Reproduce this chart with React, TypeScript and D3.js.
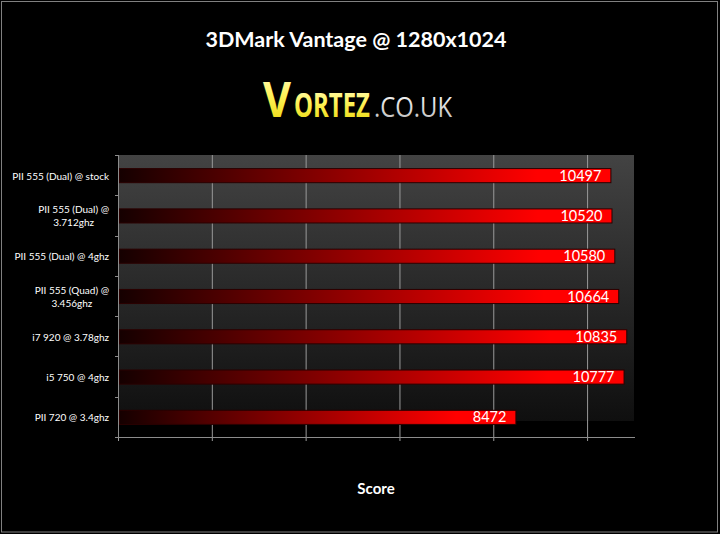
import React, { useEffect, useRef } from "react";
import * as d3 from "d3";

const categories = [
  "PII 555 (Dual) @ stock",
  "PII 555 (Dual) @\n3.712ghz",
  "PII 555 (Dual) @ 4ghz",
  "PII 555 (Quad) @\n3.456ghz",
  "i7 920 @ 3.78ghz",
  "i5 750 @ 4ghz",
  "PII 720 @ 3.4ghz",
];
const scores = [10497, 10520, 10580, 10664, 10835, 10777, 8472];
const xTicks = [0, 2000, 4000, 6000, 8000, 10000];
const xMax = 11000;
const title = "3DMark Vantage @ 1280x1024";
const axisTitle = "Score";
const logoParts = ["V", "ORTEZ", ".CO.UK"];

const W = 720;
const H = 534;
const FONT = "Lato, 'Open Sans', sans-serif";

export default function App() {
  const ref = useRef<SVGSVGElement | null>(null);

  useEffect(() => {
    const svg = d3.select(ref.current);
    svg.selectAll("*").remove();

    const left = 118, right = 634, top = 155, bottom = 437;
    const x = d3.scaleLinear().domain([0, xMax]).range([left, right]);
    const y = d3.scaleBand<string>().domain(categories).range([top, bottom]).paddingInner(0.65).paddingOuter(0.325);

    const defs = svg.append("defs");
    const bg = defs.append("linearGradient").attr("id", "plotbg").attr("x1", 0).attr("y1", 0).attr("x2", 0).attr("y2", 1);
    bg.append("stop").attr("offset", 0).attr("stop-color", "#434343");
    bg.append("stop").attr("offset", 1).attr("stop-color", "#0f0f0f");

    const bar = defs.append("linearGradient").attr("id", "bargrad").attr("x1", 0).attr("y1", 0).attr("x2", 1).attr("y2", 0);
    bar.append("stop").attr("offset", 0).attr("stop-color", "#150000");
    bar.append("stop").attr("offset", 0.85).attr("stop-color", "#ff0000");
    bar.append("stop").attr("offset", 1).attr("stop-color", "#ff0000");

    const logoG = defs.append("linearGradient").attr("id", "logoy").attr("x1", 0).attr("y1", 0).attr("x2", 0).attr("y2", 1);
    logoG.append("stop").attr("offset", 0).attr("stop-color", "#ffffe6");
    logoG.append("stop").attr("offset", 0.45).attr("stop-color", "#fff35a");
    logoG.append("stop").attr("offset", 1).attr("stop-color", "#e6d200");
    const logoW = defs.append("linearGradient").attr("id", "logow").attr("x1", 0).attr("y1", 0).attr("x2", 0).attr("y2", 1);
    logoW.append("stop").attr("offset", 0).attr("stop-color", "#ffffff");
    logoW.append("stop").attr("offset", 1).attr("stop-color", "#b8b8b8");

    // background and frame
    svg.append("rect").attr("width", W).attr("height", H).attr("fill", "#000");
    svg.append("rect").attr("x", 1.5).attr("y", 1.5).attr("width", 716).attr("height", 530.5)
      .attr("fill", "none").attr("stroke", "#808080").attr("stroke-width", 1);

    // title
    svg.append("text").attr("x", 356).attr("y", 47).attr("text-anchor", "middle")
      .attr("font-family", FONT).attr("font-weight", 700).attr("font-size", 21.5).attr("fill", "#fff")
      .text(title);

    // logo: three pieces, each sized to its width, stretched vertically to its cap height
    const logoSpec = [
      { t: logoParts[0], x: 263, w: 28, cap: 34, weight: 700, fill: "url(#logoy)" },
      { t: logoParts[1], x: 294, w: 76, cap: 24, weight: 700, fill: "url(#logoy)" },
      { t: logoParts[2], x: 374, w: 78, cap: 19, weight: 400, fill: "url(#logow)" },
    ];
    const capRatio = 0.714;
    logoSpec.forEach((p) => {
      const g = svg.append("g");
      const t = g.append("text").attr("x", 0).attr("y", 0)
        .attr("font-family", "'Open Sans', Lato, sans-serif")
        .attr("font-size", 20).attr("font-weight", p.weight).attr("fill", p.fill)
        .text(p.t);
      const w0 = (t.node() as SVGTextElement).getComputedTextLength() || 1;
      const size = (20 * p.w) / w0;
      t.attr("font-size", size);
      const sy = p.cap / (capRatio * size);
      g.attr("transform", `translate(${p.x},117) scale(1,${sy})`);
    });

    // plot area
    svg.append("rect").attr("x", left).attr("y", top).attr("width", right - left).attr("height", 421 - top)
      .attr("fill", "url(#plotbg)");

    // gridlines (extend below axis as ticks)
    svg.append("g").selectAll("line").data(xTicks).join("line")
      .attr("x1", (d) => x(d) + 0.5).attr("x2", (d) => x(d) + 0.5)
      .attr("y1", top).attr("y2", bottom + 4)
      .attr("stroke", "#9a9a9a").attr("stroke-width", 1);

    // y axis
    svg.append("line").attr("x1", left + 0.5).attr("x2", left + 0.5).attr("y1", top).attr("y2", bottom)
      .attr("stroke", "#8c8c8c");
    const step = y.step();
    const yTickPos = d3.range(categories.length + 1).map((i) => top + i * step);
    svg.append("g").selectAll("line").data(yTickPos).join("line")
      .attr("x1", left - 3).attr("x2", left).attr("y1", (d) => Math.round(d) + 0.5).attr("y2", (d) => Math.round(d) + 0.5)
      .attr("stroke", "#8c8c8c");

    // x axis
    svg.append("line").attr("x1", left).attr("x2", right + 1).attr("y1", bottom + 0.5).attr("y2", bottom + 0.5)
      .attr("stroke", "#8c8c8c");

    // bars
    const rows = categories.map((c, i) => ({ c, v: scores[i] }));
    svg.append("g").selectAll("rect").data(rows).join("rect")
      .attr("x", x(0) + 1.5).attr("y", (d) => (y(d.c) as number) + 0.5)
      .attr("width", (d) => x(d.v) - x(0) - 1).attr("height", y.bandwidth())
      .attr("fill", "url(#bargrad)").attr("stroke", "#2a0000").attr("stroke-width", 1);

    // value labels
    svg.append("g").selectAll("text").data(rows).join("text")
      .attr("x", (d) => x(d.v) - 9).attr("y", (d) => (y(d.c) as number) + y.bandwidth() / 2 + 5.5)
      .attr("text-anchor", "end").attr("font-family", FONT).attr("font-size", 14.5).attr("fill", "#fff")
      .text((d) => d.v);

    // category labels
    const labelRight = 109;
    const lineH = 13;
    const lg = svg.append("g").attr("font-family", FONT).attr("font-size", 10).attr("fill", "#fff");
    rows.forEach((d) => {
      const lines = d.c.split("\n");
      const cy = (y(d.c) as number) + y.bandwidth() / 2 + 1;
      const t = lg.append("text").attr("text-anchor", "middle");
      lines.forEach((ln, k) => {
        t.append("tspan").attr("y", cy + (k - (lines.length - 1) / 2) * lineH + 3.5).text(ln);
      });
      const wmax = Math.max(...(t.selectAll("tspan").nodes() as SVGTSpanElement[]).map((n) => n.getComputedTextLength()));
      t.selectAll("tspan").attr("x", labelRight - wmax / 2);
    });

    // axis title
    svg.append("text").attr("x", (left + right) / 2).attr("y", 494).attr("text-anchor", "middle")
      .attr("font-family", FONT).attr("font-weight", 700).attr("font-size", 15).attr("fill", "#fff")
      .text(axisTitle);
  }, []);

  return (
    <svg ref={ref} width={W} height={H} style={{ position: "absolute", left: 0, top: 0, display: "block" }} />
  );
}
